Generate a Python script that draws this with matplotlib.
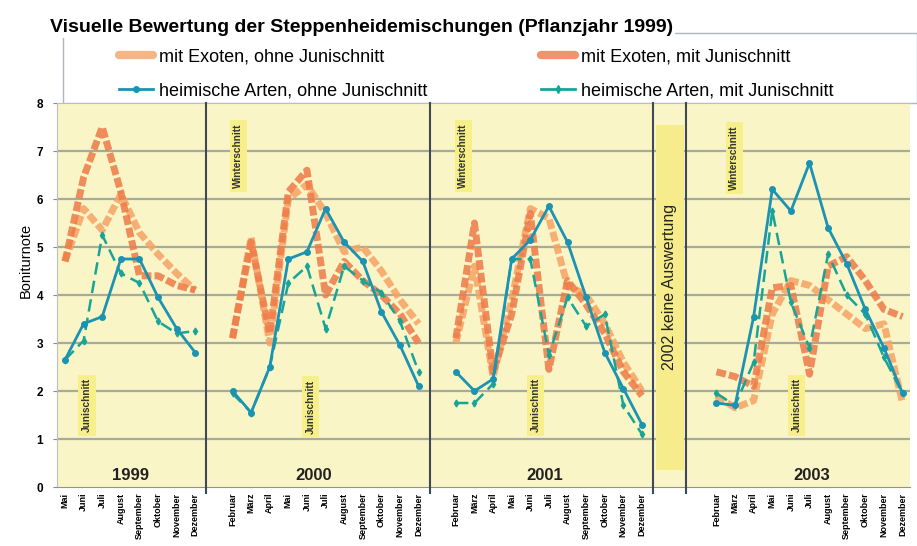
import matplotlib.pyplot as plt
from matplotlib.patches import Rectangle
from matplotlib.lines import Line2D

plt.rcParams['font.family'] = ['Liberation Sans', 'DejaVu Sans']

# Monate je Jahr
monate_1999 = ["Mai", "Juni", "Juli", "August", "September", "Oktober", "November", "Dezember"]
monate = ["Februar", "März", "April", "Mai", "Juni", "Juli", "August", "September",
          "Oktober", "November", "Dezember"]
jahre = ["1999", "2000", "2001", "2003"]

# Boniturnoten
exoten_ohne_1999 = [4.7, 5.8, 5.35, 6.1, 5.3, 4.85, 4.45, 4.1]
exoten_mit_1999 = [4.7, 6.45, 7.5, 6.15, 4.4, 4.4, 4.2, 4.1]
heimisch_ohne_1999 = [2.65, 3.4, 3.55, 4.75, 4.75, 3.95, 3.3, 2.8]
heimisch_mit_1999 = [2.65, 3.05, 5.25, 4.45, 4.25, 3.45, 3.2, 3.25]

exoten_ohne_2000 = [3.1, 5.2, 3.0, 6.0, 6.3, 5.7, 4.9, 5.0, 4.5, 3.9, 3.4]
exoten_mit_2000 = [3.1, 5.1, 3.2, 6.15, 6.6, 4.0, 4.7, 4.3, 4.0, 3.6, 3.0]
heimisch_ohne_2000 = [2.0, 1.55, 2.5, 4.75, 4.9, 5.8, 5.1, 4.7, 3.65, 2.95, 2.1]
heimisch_mit_2000 = [1.95, 1.55, 2.5, 4.25, 4.6, 3.3, 4.6, 4.3, 4.05, 3.45, 2.4]

exoten_ohne_2001 = [3.0, 4.6, 2.3, 3.9, 5.8, 5.6, 4.2, 4.0, 3.4, 2.6, 2.0]
exoten_mit_2001 = [3.1, 5.5, 2.4, 3.6, 5.7, 2.45, 4.3, 3.8, 3.2, 2.4, 1.9]
heimisch_ohne_2001 = [2.4, 2.0, 2.25, 4.75, 5.15, 5.85, 5.1, 3.95, 2.8, 2.05, 1.3]
heimisch_mit_2001 = [1.75, 1.75, 2.15, 4.75, 4.75, 2.75, 3.95, 3.35, 3.6, 1.7, 1.1]

exoten_ohne_2003 = [1.9, 1.65, 1.8, 3.6, 4.3, 4.2, 3.9, 3.6, 3.3, 3.4, 1.75]
exoten_mit_2003 = [2.4, 2.3, 2.1, 4.15, 4.2, 2.35, 4.6, 4.8, 4.3, 3.7, 3.55]
heimisch_ohne_2003 = [1.75, 1.7, 3.55, 6.2, 5.75, 6.75, 5.4, 4.65, 3.7, 2.9, 1.95]
heimisch_mit_2003 = [1.95, 1.7, 2.6, 5.75, 3.85, 2.9, 4.85, 4.0, 3.6, 2.7, 1.95]

serien = [
    ("mit Exoten, ohne Junischnitt", [exoten_ohne_1999, exoten_ohne_2000, exoten_ohne_2001, exoten_ohne_2003]),
    ("mit Exoten, mit Junischnitt", [exoten_mit_1999, exoten_mit_2000, exoten_mit_2001, exoten_mit_2003]),
    ("heimische Arten, ohne Junischnitt", [heimisch_ohne_1999, heimisch_ohne_2000, heimisch_ohne_2001, heimisch_ohne_2003]),
    ("heimische Arten, mit Junischnitt", [heimisch_mit_1999, heimisch_mit_2000, heimisch_mit_2001, heimisch_mit_2003]),
]
stile = [
    dict(color="#F6A265", lw=5, dashes=(1.4, 0.45), alpha=0.85, zorder=2),
    dict(color="#EE7A48", lw=5, dashes=(1.4, 0.45), alpha=0.85, zorder=2),
    dict(color="#1B93B3", lw=2, marker="o", ms=4, zorder=4),
    dict(color="#17A597", lw=1.8, dashes=(5, 2.5), marker="d", ms=3.5, zorder=3),
]

# Position der Monate auf der Achse
start = [0, 9, 21, 35]
monat_listen = [monate_1999, monate, monate, monate]

fig = plt.figure(figsize=(9.17, 5.46), dpi=100)
ax = fig.add_axes([57 / 917, 59 / 546, 853 / 917, 384 / 546])
ax.set_facecolor("#FAF5C6")
ax.set_xlim(-0.43, 45.4)
ax.set_ylim(0, 8)

for y in range(1, 8):
    ax.axhline(y, color="#A5AC9E", lw=1.6, zorder=1)

for x in [7.6, 19.6, 31.6, 33.35]:
    ax.plot([x, x], [-0.12, 8], color="#3E4B57", lw=1.5, clip_on=False, zorder=5)

# 2002: keine Auswertung
ax.add_patch(Rectangle((31.75, 0.35), 1.5, 7.2, facecolor="#F6EC8C", edgecolor="none", zorder=1.5))
ax.text(32.5, 4.17, "2002 keine Auswertung", rotation=90, ha="center", va="center",
        fontsize=11.5, color="#222222", zorder=6)

xs_alle, labels_alle = [], []
for s, m in zip(start, monat_listen):
    xs_alle += [s + i for i in range(len(m))]
    labels_alle += m

for (name, werte), st in zip(serien, stile):
    for s, w in zip(start, werte):
        ax.plot([s + i for i in range(len(w))], w, **st)

# Jahreszahlen
for xj, j in zip([3.5, 13.35, 25.8, 40.1], jahre):
    ax.text(xj, 0.25, j, ha="center", va="center", fontsize=12, fontweight="bold", color="#222222")

# Schnitt-Hinweise
box = dict(boxstyle="square,pad=0.35", facecolor="#F7F08A", edgecolor="none")
for xh, yh, t in [(1.18, 1.7, "Junischnitt"), (9.3, 6.9, "Winterschnitt"), (13.2, 1.67, "Junischnitt"),
                  (21.4, 6.9, "Winterschnitt"), (25.3, 1.7, "Junischnitt"),
                  (35.95, 6.85, "Winterschnitt"), (39.3, 1.7, "Junischnitt")]:
    ax.text(xh, yh, t, rotation=90, ha="center", va="center", fontsize=7.3,
            fontweight="bold", color="#333333", bbox=box, zorder=6)

ax.set_xticks(xs_alle)
ax.set_xticklabels(labels_alle, rotation=90, fontsize=6.5, fontweight="bold", va="top")
ax.tick_params(axis="x", length=0, pad=4)
ax.set_yticks(range(0, 9))
ax.tick_params(axis="y", labelsize=8.5, length=3, color="#888888", pad=7)
for lab in ax.get_yticklabels():
    lab.set_fontweight("bold")
ax.set_ylabel("Boniturnote", fontsize=10.5)
ax.yaxis.set_label_coords(-0.028, 0.59)

for sp in ["left", "top"]:
    ax.spines[sp].set_color("#B8BFC5")
ax.spines["right"].set_visible(False)
ax.spines["bottom"].set_color("#8E9494")

# Legendenrahmen und Titel
fig.add_artist(Rectangle((63 / 917, 1 - 103 / 546), (917 - 63) / 917, 70 / 546,
                         transform=fig.transFigure, facecolor="white", edgecolor="#AEB6BE", lw=1, zorder=0))
fig.text(50 / 917, 1 - 27 / 546, "Visuelle Bewertung der Steppenheidemischungen (Pflanzjahr 1999)",
         fontsize=14, fontweight="bold", va="center", ha="left",
         bbox=dict(facecolor="white", edgecolor="none", pad=1.5))

h = [Line2D([], [], color=stile[0]["color"], lw=6, solid_capstyle="round", alpha=0.8),
     Line2D([], [], color=stile[2]["color"], lw=2, marker="o", ms=4),
     Line2D([], [], color=stile[1]["color"], lw=6, solid_capstyle="round", alpha=0.8),
     Line2D([], [], color=stile[3]["color"], lw=2, marker="d", ms=4)]
fig.legend(h, [serien[0][0], serien[2][0], serien[1][0], serien[3][0]], loc="upper left",
           bbox_to_anchor=(119 / 917, 1 - 48 / 546), ncol=2, frameon=False, fontsize=13,
           handlelength=1.9, handletextpad=0.3, columnspacing=6.3, labelspacing=0.95,
           borderpad=0, borderaxespad=0)

fig.savefig("out.png", dpi=100)
